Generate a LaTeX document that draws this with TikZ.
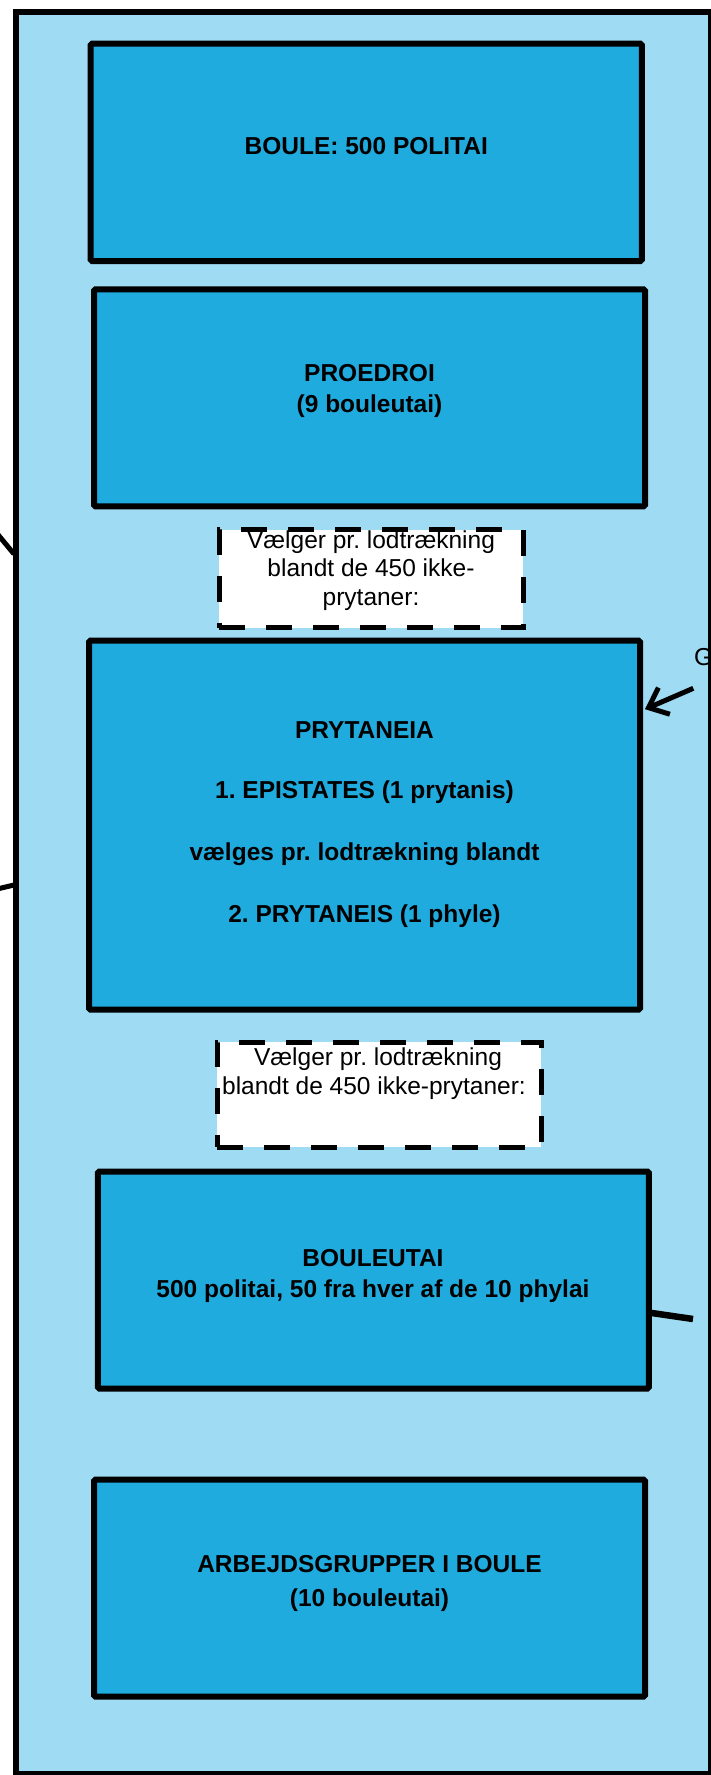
\documentclass[tikz,border=0pt]{standalone}
\usepackage{fontspec}
\setmainfont{Liberation Sans}
\usetikzlibrary{arrows.meta}
\definecolor{framebg}{RGB}{159,219,243}
\definecolor{boxbg}{RGB}{32,171,223}
\frenchspacing
\begin{document}
\begin{tikzpicture}[x=1pt,y=-1pt,
  bluebox/.style={draw=black, line width=6pt, fill=boxbg, rectangle, inner sep=0pt, outer sep=0pt, rounded corners=1.5pt},
  dashbox/.style={draw=black, line width=5pt, fill=white, rectangle, dash pattern=on 26pt off 21pt, inner sep=0pt, outer sep=0pt},
  boldtxt/.style={font=\fontsize{24.5}{29}\selectfont\bfseries, anchor=base, inner sep=0pt},
  plaintxt/.style={font=\fontsize{24.5}{29}\selectfont, anchor=base, inner sep=0pt},
  conn/.style={line width=5pt}]
\useasboundingbox (0,0) rectangle (711,1775);
\fill[white] (0,0) rectangle (711,1775);
% container
\node[fill=framebg, inner sep=0pt, outer sep=0pt, minimum width=694.7pt, minimum height=1762.3pt] (frame) at (363.65,892.85) {};
% boxes
\node[bluebox, minimum width=551.1pt, minimum height=217.3pt] (boule) at (366.25,152.35) {};
\node[bluebox, minimum width=551pt, minimum height=217pt] (proedroi) at (369.5,397.8) {};
\node[dashbox, minimum width=304pt, minimum height=98pt] (dash1) at (371,578.5) {};
\node[bluebox, minimum width=551pt, minimum height=368.8pt] (prytaneia) at (364.5,825.1) {};
\node[dashbox, minimum width=324pt, minimum height=105pt] (dash2) at (379,1094.5) {};
\node[bluebox, minimum width=551pt, minimum height=217pt] (bouleutai) at (373.3,1280) {};
\node[bluebox, minimum width=551pt, minimum height=216.8pt] (arbejd) at (369.5,1588.1) {};
% texts
\node[boldtxt] (t1) at (366.25,154) {BOULE: 500 POLITAI};
\node[boldtxt] (t2a) at (369.5,381.5) {PROEDROI};
\node[boldtxt] (t2b) at (369.5,412.5) {(9 bouleutai)};
\node[plaintxt] (d1a) at (371,548.3) {Vælger pr. lodtrækning};
\node[plaintxt] (d1b) at (371,576.8) {blandt de 450 ikke-};
\node[plaintxt] (d1c) at (371,605.3) {prytaner:};
\node[boldtxt] (t4a) at (364.5,738.3) {PRYTANEIA};
\node[boldtxt] (t4b) at (364.5,798.3) {1. EPISTATES (1 prytanis)};
\node[boldtxt] (t4c) at (364.5,860) {vælges pr. lodtrækning blandt};
\node[boldtxt] (t4d) at (364.5,922.7) {2. PRYTANEIS (1 phyle)};
\node[plaintxt] (d2a) at (378,1065) {Vælger pr. lodtrækning};
\node[plaintxt] (d2b) at (374,1094) {blandt de 450 ikke-prytaner:};
\node[boldtxt] (t6a) at (373,1266) {BOULEUTAI};
\node[boldtxt] (t6b) at (373,1297.3) {500 politai, 50 fra hver af de 10 phylai};
\node[boldtxt] (t7a) at (369.5,1572.7) {ARBEJDSGRUPPER I BOULE};
\node[boldtxt] (t7b) at (369.5,1606) {(10 bouleutai)};
% connectors
\coordinate (gsrc) at (693.3,688.3);
\draw[conn, -{Straight Barb[length=17pt,width=29pt]}] (gsrc) -- ([shift={(5,68.5)}]prytaneia.north east);
\node[plaintxt, anchor=base west] (g) at (694,665) {G};
\coordinate (rline) at (693,1319);
\draw[line width=6.5pt] ([shift={(3,141.5)}]bouleutai.north east) -- (rline);
\coordinate (l1a) at (-5,531);
\coordinate (l1b) at (14,554);
\draw[conn] (l1a) -- (l1b);
\coordinate (l2a) at (-5,889.5);
\coordinate (l2b) at (14,885);
\draw[conn] (l2a) -- (l2b);
% container border on top
\draw[line width=6pt] (frame.north west) rectangle (frame.south east);
\end{tikzpicture}
\end{document}
